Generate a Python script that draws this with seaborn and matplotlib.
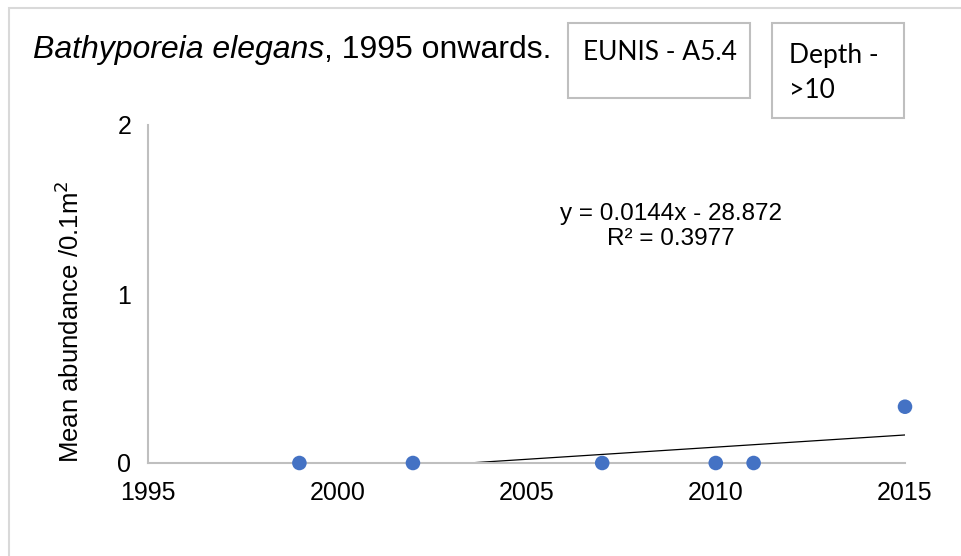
import numpy as np
import matplotlib
matplotlib.use("Agg")
import matplotlib.pyplot as plt
import seaborn as sns
import pandas as pd
from matplotlib.patches import Rectangle

# data
years = [1999, 2002, 2007, 2010, 2011, 2015]
abundance = [0, 0, 0, 0, 0, 0.333]
x_ticks = [1995, 2000, 2005, 2010, 2015]
y_ticks = [0, 1, 2]

df = pd.DataFrame({"year": years, "abundance": abundance})

sns.set_theme(style="white")
plt.rcParams['font.family'] = ['Liberation Sans', 'DejaVu Sans']
plt.rcParams['text.color'] = 'black'
plt.rcParams['axes.labelcolor'] = 'black'

W, H = 961, 556
fig = plt.figure(figsize=(W / 100, H / 100), dpi=100)
ax = fig.add_axes([148 / W, 1 - 463 / H, 757 / W, 338 / H])

# linear trend line (Excel style), clipped at the axis floor
slope, intercept = np.polyfit(df["year"], df["abundance"], 1)
xs = np.array([df["year"].min(), df["year"].max()])
ax.plot(xs, slope * xs + intercept, color="black", lw=0.9, zorder=2)

sns.scatterplot(data=df, x="year", y="abundance", ax=ax, color="#4472C4",
                s=110, edgecolor="none", zorder=3, clip_on=False)

ax.set_xlim(1995, 2015)
ax.set_ylim(0, 2)
ax.set_xticks(x_ticks)
ax.set_yticks(y_ticks)
ax.tick_params(axis="both", labelsize=18, length=0, colors="black")
ax.tick_params(axis="x", pad=13)
ax.tick_params(axis="y", pad=12)
for side in ["top", "right"]:
    ax.spines[side].set_visible(False)
for side in ["left", "bottom"]:
    ax.spines[side].set_color("#bfbfbf")
    ax.spines[side].set_linewidth(1.5)
ax.set_xlabel("")
ax.set_ylabel("Mean abundance /0.1m$^2$", fontsize=18.5)
ax.yaxis.set_label_coords(-0.085, 0.417)

ax.text(0.691, 0.70, "y = 0.0144x - 28.872\nR² = 0.3977", transform=ax.transAxes,
        ha="center", va="center", fontsize=17.5, linespacing=1.15)

# outer frame
fig.patches.append(Rectangle((9 / W, -0.1), 1.2, 1 - 8 / H + 0.1,
                             transform=fig.transFigure, fill=False,
                             edgecolor="#d9d9d9", lw=1.5))

# title: italic species name, then the rest
t1 = fig.text(33 / W, 1 - 50 / H, "Bathyporeia elegans", fontsize=23,
              va="center", ha="left", style="italic")
fig.canvas.draw()
bb = t1.get_window_extent()
fig.text(bb.x1 / W, 1 - 50 / H, ", 1995 onwards.", fontsize=23,
         va="center", ha="left")

# info boxes
box_font = ['Lato', 'DejaVu Sans']
fig.patches.append(Rectangle((568 / W, 1 - 98 / H), 182 / W, 75 / H,
                             transform=fig.transFigure, fill=False,
                             edgecolor="#bfbfbf", lw=1.5))
fig.patches.append(Rectangle((772 / W, 1 - 118 / H), 132 / W, 95 / H,
                             transform=fig.transFigure, fill=False,
                             edgecolor="#bfbfbf", lw=1.5))
fig.text(583 / W, 1 - 52 / H, "EUNIS - A5.4", fontsize=19, family=box_font,
         va="center", ha="left")
fig.text(789 / W, 1 - 55 / H, "Depth -", fontsize=19, family=box_font,
         va="center", ha="left")
fig.text(789 / W, 1 - 90 / H, ">10", fontsize=19, family=box_font,
         va="center", ha="left")

fig.savefig("out.png", dpi=100)
